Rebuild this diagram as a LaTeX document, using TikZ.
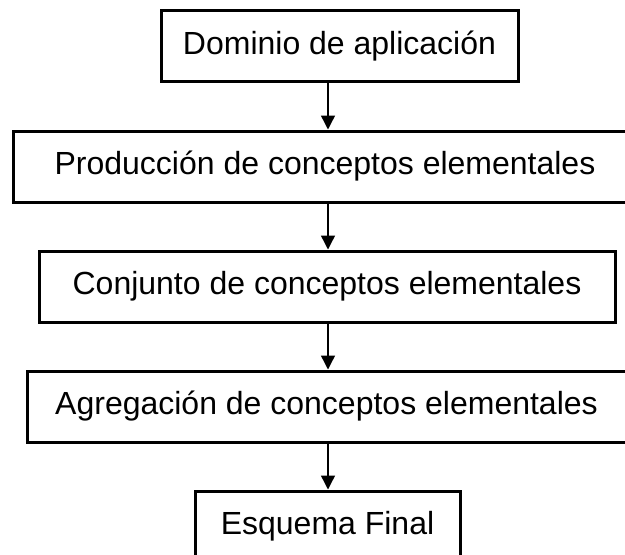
\documentclass[tikz,border=0pt]{standalone}
\usepackage{fontspec}
\setmainfont{Liberation Sans}
\usepackage{tikz}
\usetikzlibrary{arrows.meta}

\begin{document}
\begin{tikzpicture}[x=1pt,y=1pt,
    box/.style={draw,line width=3pt,rectangle,minimum height=71pt,
        inner sep=0pt,font=\fontsize{32}{36}\selectfont},
    arr/.style={line width=1.4pt,-{Triangle[width=14pt,length=14pt]}}]
        \path[use as bounding box,clip] (0,0) rectangle (625,-555);
        \node[box,minimum width=357] (dom) at (339.5,-46) {Dominio de aplicación};
        \node[box,minimum width=624] (prod) at (325,-166.5) {Producción de conceptos elementales};
        \node[box,minimum width=576] (conj) at (327,-286.5) {Conjunto de conceptos elementales};
        \node[box,minimum width=599] (agreg) at (326.5,-406.5) {Agregación de conceptos elementales};
        \node[box,minimum width=265] (esq) at (327.5,-526.5) {Esquema Final};
        \coordinate (axis) at (328,0);
        \draw[arr] (dom.south -| axis) -- (prod.north -| axis);
        \draw[arr] (prod.south -| axis) -- (conj.north -| axis);
        \draw[arr] (conj.south -| axis) -- (agreg.north -| axis);
        \draw[arr] (agreg.south -| axis) -- (esq.north -| axis);
\end{tikzpicture}
\end{document}
